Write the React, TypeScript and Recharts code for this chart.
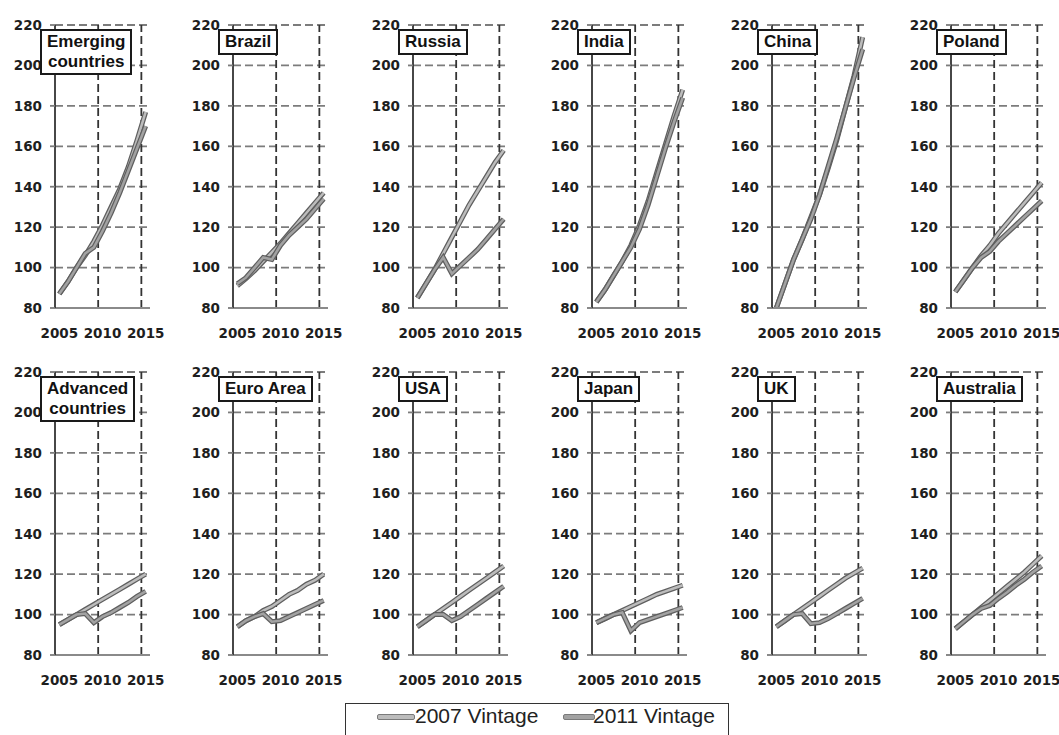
import * as React from "react"
import { LineChart, Line, XAxis, YAxis, CartesianGrid, ReferenceLine } from "recharts"

// --- data (index 2005 = 100) ---
const years = [2005, 2006, 2007, 2008, 2009, 2010, 2011, 2012, 2013, 2014, 2015]
const yTicks = [80, 100, 120, 140, 160, 180, 200, 220]
const xTicks = [2005, 2010, 2015]
const xGridYears = [2009.5, 2014.5]

const emerging2007 = [87, 93, 100, 106, 113, 121, 130, 139, 150, 163, 177]
const emerging2011 = [87, 93, 100, 107, 110, 118, 127, 137, 148, 159, 170]
const brazil2007 = [91, 94.5, 98.5, 103, 107.5, 112, 117, 122, 127, 132, 137]
const brazil2011 = [92, 95, 100, 105, 104, 111, 116, 120, 124, 129, 134]
const russia2007 = [85, 92, 99, 107, 115, 123, 131, 138, 145, 152, 158]
const russia2011 = [85, 92, 99, 105, 97, 101, 105, 109, 114, 119, 124]
const india2007 = [83, 89, 96, 103, 111, 121, 133, 147, 161, 175, 188]
const india2011 = [83, 89, 96, 103, 110, 119, 131, 145, 159, 172, 184]
const china2007 = [80, 92, 104, 114, 125, 136, 149, 163, 179, 195, 214]
const china2011 = [80, 92, 104, 114, 124, 136, 150, 164, 179, 194, 208]
const poland2007 = [88, 94, 100, 106, 111, 117, 122, 127, 132, 137, 142]
const poland2011 = [88, 94, 100, 105, 108, 113, 117, 121, 125, 129, 133]
const advanced2007 = [95, 97.5, 100, 102.5, 105, 107.5, 110, 112.5, 115, 117.5, 120]
const advanced2011 = [95, 97.5, 100, 100.5, 96, 99, 101, 103.5, 106, 109, 111.5]
const euro2007 = [94, 97, 99, 102, 104, 107, 110, 112, 115, 117, 120]
const euro2011 = [94, 97, 99, 100.5, 96.5, 97, 99, 101, 103, 105, 107]
const usa2007 = [94, 97, 100, 103, 106, 109, 112, 115, 118, 121, 124]
const usa2011 = [94, 97, 100, 100, 97, 99, 102, 105, 108, 111, 114]
const japan2007 = [96, 98, 100, 102, 104, 106, 108, 110, 111.5, 113, 114.5]
const japan2011 = [96, 98, 100, 101, 92, 96, 97.5, 99, 100.5, 102, 103.5]
const uk2007 = [94, 97, 100, 103, 106, 109, 112, 115, 118, 120.5, 123]
const uk2011 = [94, 97, 100, 100.5, 95.5, 96, 98, 100.5, 103, 105.5, 108]
const australia2007 = [93, 96.5, 100, 103.5, 107, 110.5, 114, 117.5, 121, 125, 129]
const australia2011 = [93, 96.5, 100, 103, 104.5, 108, 111, 114.5, 117.5, 121, 124]

const topRow = [
  { title: ["Emerging", "countries"], a: emerging2007, b: emerging2011 },
  { title: ["Brazil"], a: brazil2007, b: brazil2011 },
  { title: ["Russia"], a: russia2007, b: russia2011 },
  { title: ["India"], a: india2007, b: india2011 },
  { title: ["China"], a: china2007, b: china2011 },
  { title: ["Poland"], a: poland2007, b: poland2011 },
]
const bottomRow = [
  { title: ["Advanced", "countries"], a: advanced2007, b: advanced2011 },
  { title: ["Euro Area"], a: euro2007, b: euro2011 },
  { title: ["USA"], a: usa2007, b: usa2011 },
  { title: ["Japan"], a: japan2007, b: japan2011 },
  { title: ["UK"], a: uk2007, b: uk2011 },
  { title: ["Australia"], a: australia2007, b: australia2011 },
]

// --- layout ---
const AXIS_X = [55, 233, 413, 592, 772, 951] // x of each panel's y-axis
const ROW_TOP = [25, 372] // y of the 220 line in each row
const Y_AXIS_W = 47
const PLOT_W = 95
const PLOT_H = 283
const M_TOP = 25
const CHART_W = 170
const CHART_H = M_TOP + PLOT_H + 40

const tickFont = { fontFamily: "'DejaVu Sans', Verdana, sans-serif", fontWeight: 700, fontSize: 13.5, fill: "#1e1e1e" }
const titleFont = "'Liberation Sans', Arial, sans-serif"

const OUTLINE = "#5f5f5f"
const FILL_2007 = "#bcbcbc"
const FILL_2011 = "#a2a2a2"

function Panel({ p, left, top }: { p: any; left: number; top: number }) {
  const data = years.map((y, i) => ({ year: y, v2007: p.a[i], v2011: p.b[i] }))
  return (
    <>
      <div style={{ position: "absolute", left: left - Y_AXIS_W, top: top - M_TOP }}>
        <LineChart
          width={CHART_W}
          height={CHART_H}
          data={data}
          margin={{ top: M_TOP, right: CHART_W - Y_AXIS_W - PLOT_W, left: 0, bottom: 0 }}
        >
          <CartesianGrid vertical={false} stroke="#7c7c7c" strokeWidth={1.8} strokeDasharray="8 4" />
          <XAxis
            dataKey="year"
            type="number"
            domain={[2004.5, 2015.5]}
            ticks={xTicks}
            interval={0}
            tickLine={false}
            tickSize={6}
            tickMargin={14}
            height={40}
            axisLine={{ stroke: "#8a8a8a", strokeWidth: 1.8 }}
            tick={tickFont}
          />
          <YAxis
            type="number"
            domain={[80, 220]}
            ticks={yTicks}
            interval={0}
            width={Y_AXIS_W}
            tickSize={5}
            tickMargin={8}
            tickLine={{ stroke: "#7c7c7c", strokeWidth: 1.8 }}
            axisLine={{ stroke: "#333", strokeWidth: 1.8 }}
            tick={tickFont}
          />
          {xGridYears.map((x) => (
            <ReferenceLine key={x} x={x} stroke="#333" strokeWidth={1.8} strokeDasharray="8 4" />
          ))}
          <Line name="2007o" dataKey="v2007" type="linear" stroke={OUTLINE} strokeWidth={5} dot={false} isAnimationActive={false} />
          <Line name="2007" dataKey="v2007" type="linear" stroke={FILL_2007} strokeWidth={2.5} dot={false} isAnimationActive={false} />
          <Line name="2011o" dataKey="v2011" type="linear" stroke={OUTLINE} strokeWidth={5} dot={false} isAnimationActive={false} />
          <Line name="2011" dataKey="v2011" type="linear" stroke={FILL_2011} strokeWidth={2.5} dot={false} isAnimationActive={false} />
        </LineChart>
      </div>
      <div
        style={{
          position: "absolute",
          left: left - 15,
          top: top + 4,
          border: "2px solid #1a1a1a",
          background: "#fff",
          fontFamily: titleFont,
          fontWeight: 700,
          fontSize: 17,
          lineHeight: "20px",
          padding: "1px 5px",
          textAlign: "center",
          color: "#111",
          whiteSpace: "nowrap",
        }}
      >
        {p.title.map((t: string, i: number) => (
          <div key={i}>{t}</div>
        ))}
      </div>
    </>
  )
}

function Swatch({ left, width, fill }: { left: number; width: number; fill: string }) {
  return (
    <div
      style={{
        position: "absolute",
        left,
        top: 10,
        width,
        height: 4,
        background: fill,
        border: "1px solid #7a7a7a",
        borderRadius: 2,
      }}
    />
  )
}

export default function App() {
  return (
    <div style={{ position: "absolute", left: 0, top: 0, width: 1059, height: 735, overflow: "hidden", background: "#fff" }}>
      {topRow.map((p, i) => (
        <Panel key={"t" + i} p={p} left={AXIS_X[i]} top={ROW_TOP[0]} />
      ))}
      {bottomRow.map((p, i) => (
        <Panel key={"b" + i} p={p} left={AXIS_X[i]} top={ROW_TOP[1]} />
      ))}
      <div
        style={{
          position: "absolute",
          left: 345,
          top: 703,
          width: 382,
          height: 40,
          border: "1.5px solid #333",
          fontFamily: titleFont,
          fontSize: 21,
          color: "#222",
        }}
      >
        <Swatch left={31} width={36} fill={FILL_2007} />
        <div style={{ position: "absolute", left: 69, top: 0, lineHeight: "24px" }}>2007 Vintage</div>
        <Swatch left={217} width={30} fill={FILL_2011} />
        <div style={{ position: "absolute", left: 247, top: 0, lineHeight: "24px" }}>2011 Vintage</div>
      </div>
    </div>
  )
}
